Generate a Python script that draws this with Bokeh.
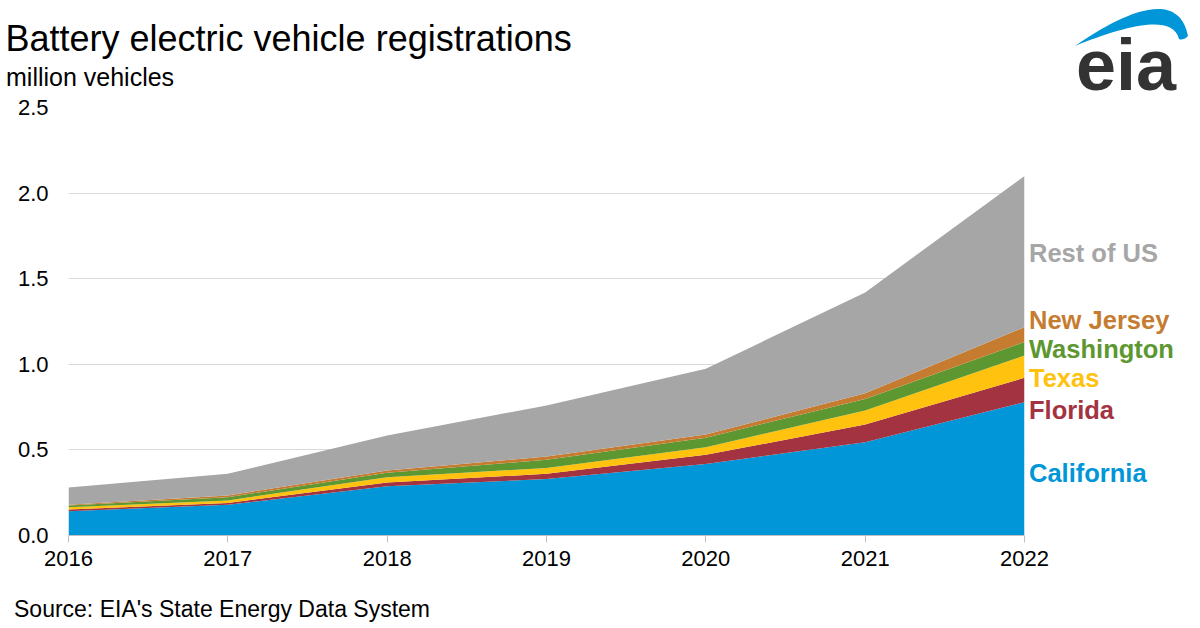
from bokeh.plotting import figure
from bokeh.models import ColumnDataSource, Range1d, FixedTicker, NumeralTickFormatter, Div
from bokeh.layouts import column, row
from bokeh.embed import file_html
from bokeh.resources import INLINE

# ---- data (million vehicles) ----
years = [2016, 2017, 2018, 2019, 2020, 2021, 2022]
california = [0.142, 0.180, 0.288, 0.330, 0.418, 0.545, 0.779]
florida = [0.010, 0.010, 0.022, 0.030, 0.053, 0.103, 0.142]
texas = [0.013, 0.015, 0.030, 0.035, 0.045, 0.082, 0.130]
washington = [0.010, 0.019, 0.026, 0.047, 0.055, 0.068, 0.079]
new_jersey = [0.005, 0.010, 0.014, 0.019, 0.019, 0.033, 0.087]
rest_of_us = [0.100, 0.126, 0.204, 0.299, 0.384, 0.589, 0.883]

series_names = ["California", "Florida", "Texas", "Washington", "New Jersey", "Rest of US"]
series_keys = ["california", "florida", "texas", "washington", "new_jersey", "rest_of_us"]
series_colors = ["#0096D7", "#A33340", "#FFC20E", "#5D9732", "#C67C30", "#A6A6A6"]
y_ticks = [0.0, 0.5, 1.0, 1.5, 2.0, 2.5]

title_text = "Battery electric vehicle registrations"
subtitle_text = "million vehicles"
source_text = "Source: EIA&#39;s State Energy Data System"

source = ColumnDataSource(dict(year=years, california=california, florida=florida,
                               texas=texas, washington=washington,
                               new_jersey=new_jersey, rest_of_us=rest_of_us))

FONT = "Liberation Sans"
TOP_H = 92
FIG_W, FIG_H = 1050, 488
SIDE_W = 145

p = figure(width=FIG_W, height=FIG_H, x_range=Range1d(2016, 2022), y_range=Range1d(0, 2.5),
           output_backend="svg", toolbar_location=None,
           min_border_left=68, min_border_right=26, min_border_top=15, min_border_bottom=45)
p.title.visible = False
p.outline_line_color = None
p.background_fill_color = "white"
p.border_fill_color = "white"

p.varea_stack(stackers=series_keys, x="year", color=series_colors, source=source)

p.xaxis.ticker = FixedTicker(ticks=years)
p.xaxis.axis_line_color = "#BFBFBF"
p.xaxis.major_tick_line_color = "#BFBFBF"
p.xaxis.major_tick_out = 7
p.xaxis.major_tick_in = 0
p.xaxis.minor_tick_line_color = None
p.xaxis.major_label_standoff = 8
p.xaxis.major_label_text_font = FONT
p.xaxis.major_label_text_font_size = "22px"
p.xaxis.major_label_text_color = "#000000"

p.yaxis.ticker = FixedTicker(ticks=y_ticks)
p.yaxis.formatter = NumeralTickFormatter(format="0.0")
p.yaxis.axis_line_color = None
p.yaxis.major_tick_line_color = None
p.yaxis.minor_tick_line_color = None
p.yaxis.major_tick_out = 0
p.yaxis.major_label_standoff = 20
p.yaxis.major_label_text_font = FONT
p.yaxis.major_label_text_font_size = "22px"
p.yaxis.major_label_text_color = "#000000"

p.xgrid.grid_line_color = None
p.ygrid.grid_line_color = "#D9D9D9"
p.ygrid.grid_line_width = 1.2


def span(text, left, top, size, color="#000000", weight="normal"):
    return (f'<span style="position:absolute;left:{left}px;top:{top}px;'
            f'font-family:\'{FONT}\';font-size:{size}px;line-height:{size}px;'
            f'font-weight:{weight};color:{color};white-space:nowrap;">{text}</span>')


def box(inner, w, h):
    return (f'<div style="position:relative;width:{w}px;height:{h}px;overflow:visible;">'
            f'{inner}</div>')


title_div = Div(text=box(span(title_text, 5.5, 20.5, 36) + span(subtitle_text, 6, 64.8, 25),
                         FIG_W, TOP_H),
                width=FIG_W, height=TOP_H, margin=(0, 0, 0, 0))

logo_svg = ('<svg width="145" height="92" xmlns="http://www.w3.org/2000/svg" '
            'style="position:absolute;left:0;top:0;overflow:visible">'
            '<path d="M 25 46 C 65 18, 128 -16, 138 36 C 134 40, 131 40, 129 39 '
            'C 122 12, 70 28, 25 46 Z" fill="#0096D7"/>'
            f'<text x="26" y="90" font-family="{FONT}" font-weight="bold" font-size="72" '
            'fill="#333333">eia</text></svg>')
logo_div = Div(text=box(logo_svg, SIDE_W, TOP_H), width=SIDE_W, height=TOP_H,
               margin=(0, 0, 0, 0), styles={"overflow": "visible"})

label_tops = [369.2, 306, 274.2, 244.7, 215.8, 149.2]
labels_html = "".join(span(n, -21, t, 25.5, c, "bold")
                      for n, c, t in zip(series_names, series_colors, label_tops))
labels_div = Div(text=box(labels_html, SIDE_W, FIG_H), width=SIDE_W, height=FIG_H,
                 margin=(0, 0, 0, 0), styles={"overflow": "visible"})

source_div = Div(text=box(span(source_text, 14, 17.5, 23), FIG_W + SIDE_W, 45),
                 width=FIG_W + SIDE_W, height=45, margin=(0, 0, 0, 0))

layout = column(row(title_div, logo_div, spacing=0),
                row(p, labels_div, spacing=0),
                source_div, spacing=0)

open("out.html", "w").write(file_html(layout, INLINE))
